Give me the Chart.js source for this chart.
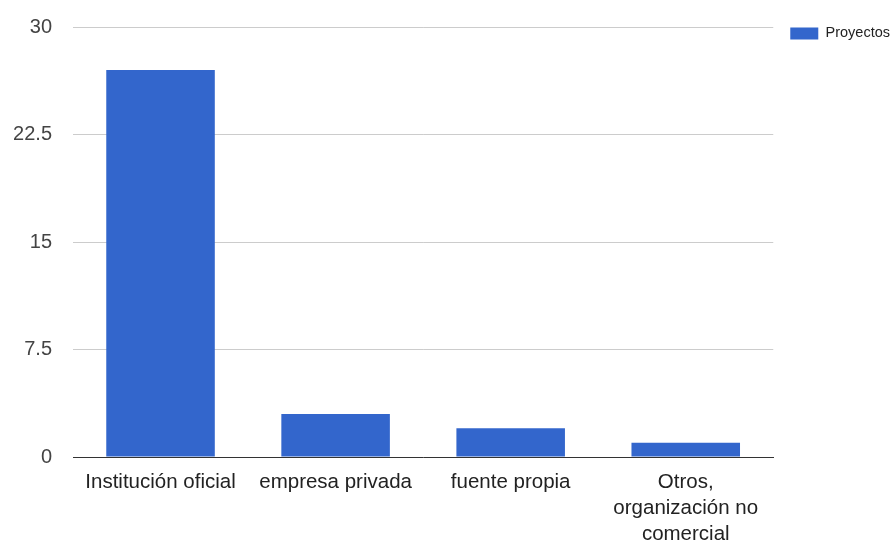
<!DOCTYPE html>
<html>
<head>
<meta charset="utf-8">
<script src="https://cdn.jsdelivr.net/npm/chart.js@4"></script>
<style>
  html,body{margin:0;padding:0;background:#fff;}
  #wrap{width:892px;height:543px;position:relative;}
</style>
</head>
<body>
<div id="wrap"><canvas id="chart"></canvas></div>
<script>
// DATA
const categories=["Institución oficial","empresa privada","fuente propia",["Otros,","organización no","comercial"]];
const seriesName="Proyectos";
const projects=[27,3,2,1];
const yTicks=[0,7.5,15,22.5,30];

Chart.defaults.font.family="'Liberation Sans', Arial, sans-serif";

new Chart(document.getElementById("chart"),{
  type:"bar",
  data:{
    labels:categories,
    datasets:[{
      label:seriesName,
      data:projects,
      backgroundColor:"#3366cc",
      barPercentage:0.62,
      categoryPercentage:1
    }]
  },
  options:{
    responsive:true,
    maintainAspectRatio:false,
    animation:false,
    layout:{padding:{top:6,left:12,right:-8,bottom:0}},
    plugins:{
      legend:{
        position:"right",
        align:"start",
        title:{display:true,text:"",font:{size:1},padding:{top:0,bottom:2}},
        labels:{
          boxWidth:28,boxHeight:12,
          color:"#222",
          font:{size:14.5},
          padding:17
        }
      },
      tooltip:{enabled:false}
    },
    scales:{
      x:{
        grid:{display:false,drawTicks:false},
        border:{color:"#333",width:1},
        afterFit:a=>{a.height=86;},
        ticks:{color:"#222",font:{size:20.5,lineHeight:1.27},padding:12,maxRotation:0,autoSkip:false}
      },
      y:{
        min:0,max:30,
        afterBuildTicks:axis=>{axis.ticks=yTicks.map(v=>({value:v}));},
        afterFit:a=>{a.width=61;a.paddingTop=27;},
        grid:{color:"#cccccc",drawTicks:false},
        border:{display:false},
        ticks:{color:"#444",font:{size:20},padding:21}
      }
    }
  }
});
</script>
</body>
</html>
